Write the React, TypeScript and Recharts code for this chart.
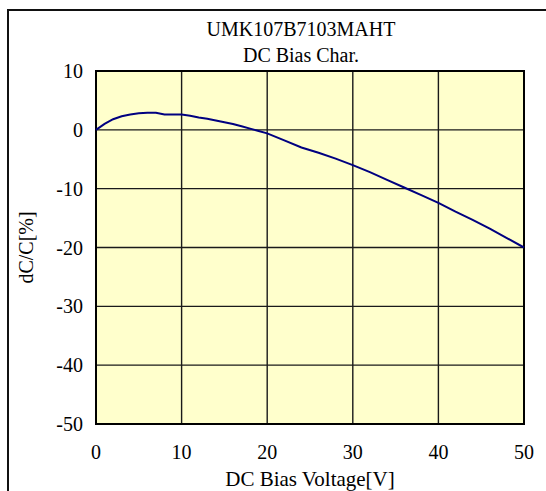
import React from "react";
import {
  LineChart,
  Line,
  XAxis,
  YAxis,
  CartesianGrid,
  ReferenceArea,
  Label,
} from "recharts";

const TITLE = ["UMK107B7103MAHT", "DC Bias Char."];

const voltage = [
  0, 1, 2, 3, 4, 5, 6, 7, 8, 9, 10, 11, 12, 13, 14, 15, 16, 17, 18, 19, 20,
  22, 24, 26, 28, 30, 32, 34, 36, 38, 40, 42, 44, 46, 48, 50,
];
const capChange = [
  0, 1.0, 1.8, 2.3, 2.6, 2.8, 2.9, 2.9, 2.6, 2.6, 2.6, 2.4, 2.1, 1.9, 1.6, 1.3,
  1.0, 0.6, 0.2, -0.2, -0.6, -1.8, -3.0, -3.9, -4.9, -6.0, -7.2, -8.5, -9.8,
  -11.1, -12.4, -13.9, -15.3, -16.8, -18.4, -20.0,
];

const xTicks = [0, 10, 20, 30, 40, 50];
const yTicks = [-50, -40, -30, -20, -10, 0, 10];

const data = voltage.map((v, i) => ({ v, dc: capChange[i] }));

const FONT = "'Liberation Serif', 'Times New Roman', serif";

const App: React.FC = () => {
  return (
    <div
      style={{
        position: "absolute",
        left: 0,
        top: 0,
        width: 546,
        height: 491,
        overflow: "hidden",
        background: "#fff",
        fontFamily: FONT,
      }}
    >
      {/* chart frame, runs off the right and bottom edges */}
      <div
        style={{
          position: "absolute",
          left: 7,
          top: 9,
          width: 600,
          height: 600,
          borderLeft: "2px solid #111",
          borderTop: "2px solid #111",
          boxSizing: "border-box",
        }}
      />
      <div
        style={{
          position: "absolute",
          left: 201,
          top: 16,
          width: 200,
          textAlign: "center",
          fontSize: 20,
          lineHeight: "26px",
          color: "#000",
        }}
      >
        {TITLE.map((t) => (
          <div key={t}>{t}</div>
        ))}
      </div>
      <div style={{ position: "absolute", left: 0, top: 0 }}>
        <LineChart
          width={546}
          height={491}
          data={data}
          margin={{ top: 71, right: 22, bottom: 0, left: 0 }}
          style={{ fontFamily: FONT }}
        >
          <CartesianGrid fill="#FFFFCC" stroke="#1a1a1a" strokeWidth={1.4} />
          <XAxis
            dataKey="v"
            type="number"
            domain={[0, 50]}
            ticks={xTicks}
            height={67}
            axisLine={false}
            tickLine={false}
            tickSize={0}
            tickMargin={21}
            tick={{ fontSize: 20, fill: "#000", fontFamily: FONT }}
          >
            <Label
              value="DC Bias Voltage[V]"
              position="insideBottom"
              offset={5}
              style={{ fontSize: 21, fill: "#000", fontFamily: FONT }}
            />
          </XAxis>
          <YAxis
            type="number"
            domain={[-50, 10]}
            ticks={yTicks}
            width={96}
            axisLine={false}
            tickLine={false}
            tickSize={0}
            tickMargin={13}
            tick={{ fontSize: 20, fill: "#000", fontFamily: FONT }}
          >
            <Label
              content={({ viewBox }: any) => {
                const cx = viewBox.x + 33;
                const cy = viewBox.y + viewBox.height / 2;
                return (
                  <text
                    x={cx}
                    y={cy}
                    transform={`rotate(-90 ${cx} ${cy})`}
                    textAnchor="middle"
                    fontSize={20}
                    fontFamily={FONT}
                    fill="#000"
                  >
                    dC/C[%]
                  </text>
                );
              }}
            />
          </YAxis>
          <ReferenceArea
            x1={0}
            x2={50}
            y1={-50}
            y2={10}
            fill="none"
            stroke="#000"
            strokeWidth={2}
            ifOverflow="visible"
          />
          <Line
            type="linear"
            dataKey="dc"
            stroke="#000080"
            strokeWidth={2}
            dot={false}
            isAnimationActive={false}
          />
        </LineChart>
      </div>
    </div>
  );
};

export default App;
